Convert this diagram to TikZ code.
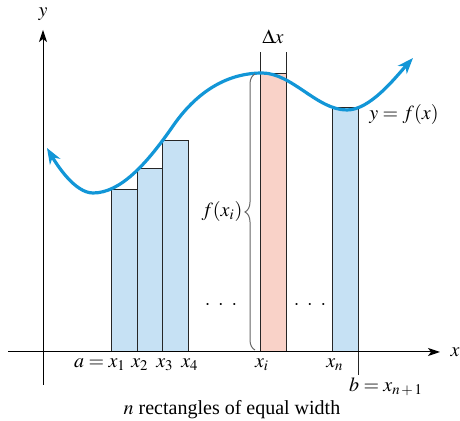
\documentclass[tikz,border=0pt]{standalone}
\usepackage{mathptmx}
\usepackage{fontspec}
\setmainfont{Liberation Serif}
\usepackage{tikz}
\usetikzlibrary{arrows.meta, decorations.pathreplacing}

\definecolor{curveblue}{RGB}{18,150,215}
\definecolor{barblue}{RGB}{198,225,244}
\definecolor{barpink}{RGB}{249,210,200}

\begin{document}
\begin{tikzpicture}[x=0.5pt, y=0.5pt,
    bar/.style={draw=black!85, line width=0.5pt},
    axis/.style={line width=0.5pt, -{Stealth[length=6pt, width=4pt, inset=1.5pt]}}]

    \useasboundingbox (0,0) rectangle (460,421);

    % Rectangles of equal width
    \filldraw[bar, fill=barblue] (111,69) rectangle (137,231);
    \filldraw[bar, fill=barblue] (137,69) rectangle (162,252);
    \filldraw[bar, fill=barblue] (162,69) rectangle (188,280);
    \filldraw[bar, fill=barpink] (260,69) rectangle (286,347);
    \draw[bar] (260,347) -- (260,369) (286,347) -- (286,369);
    \filldraw[bar, fill=barblue] (332,69) rectangle (358,313);
    \draw[bar] (358,69) -- (358,46);

    % Axes
    \draw[axis] (8,69) -- (440,69);
    \draw[axis] (43,36) -- (43,391);
    \node (xlab) at (455,69) {$x$};
    \node (ylab) at (43,407) {$y$};

    % Curve y = f(x)
    \draw[curveblue, line width=1.6pt,
        {Stealth[length=8pt, width=6pt, inset=2.5pt]}-{Stealth[length=8pt, width=6pt, inset=2.5pt]}]
        (47,273) .. controls (57,256) and (75,228) .. (93,228)
        .. controls (120,228) and (146,256) .. (173,295)
        .. controls (200,334) and (232,348) .. (262,348)
        .. controls (292,348) and (317,311) .. (347,311)
        .. controls (370,311) and (395,343) .. (413,363);
    \node (flab) at (404,306) {$y = f(x)$};

    % Height of the i-th rectangle
    \draw[black!60, line width=0.5pt, decorate, decoration={brace, amplitude=5pt}]
        (255,71) -- (255,347);
    \node (fxi) at (222,209) {$f(x_i)$};
    \node (dotsa) at (221,116) {$\cdot\ \cdot\ \cdot$};
    \node (dotsb) at (310,116) {$\cdot\ \cdot\ \cdot$};
    \node (dx) at (273,384) {$\Delta x$};

    % Labels on the x axis
    \node (xa) at (100,56) {$a = x_1$};
    \node (x2) at (140,56) {$x_2$};
    \node (x3) at (165,56) {$x_3$};
    \node (x4) at (190,56) {$x_4$};
    \node (xi) at (262,56) {$x_i$};
    \node (xn) at (335,56) {$x_n$};
    \node (xb) at (386,34) {$b = x_{n\,+\,1}$};

    \node (caption) at (232,11) {$n$ rectangles of equal width};
\end{tikzpicture}
\end{document}
